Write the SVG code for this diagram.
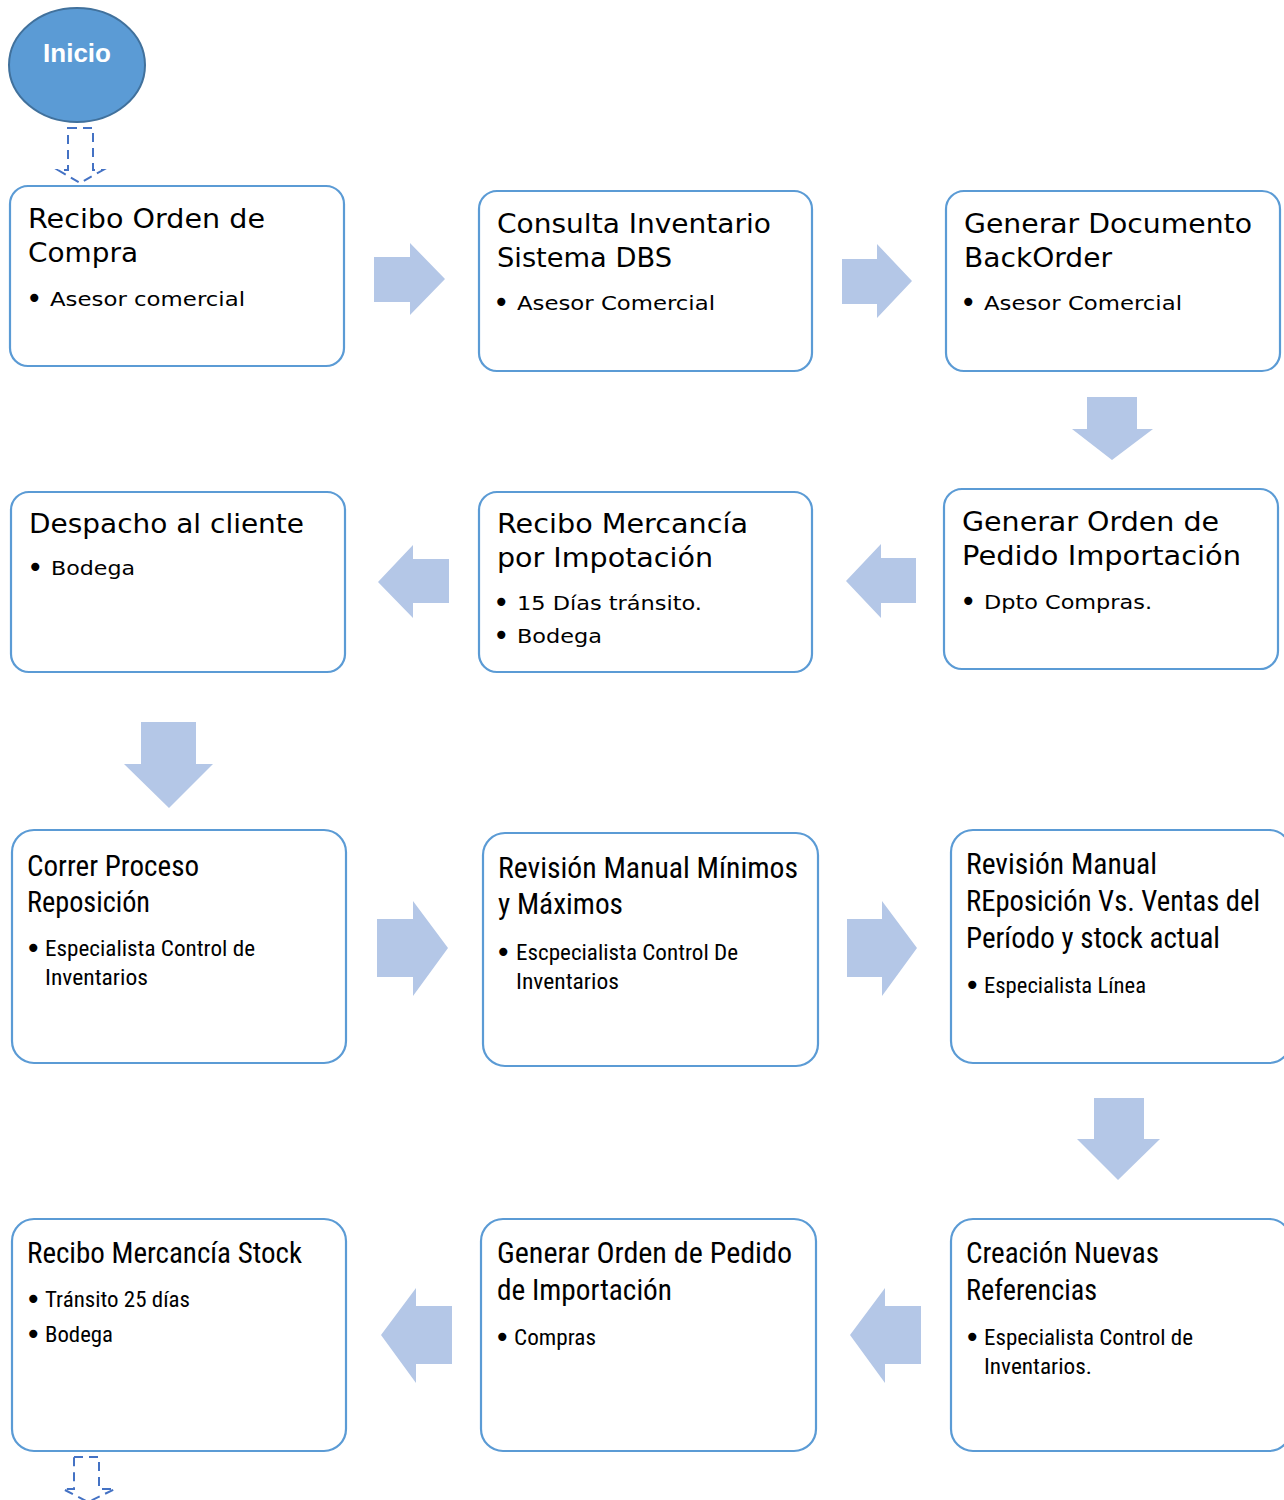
<svg xmlns="http://www.w3.org/2000/svg" width="1284" height="1500" viewBox="0 0 1284 1500">
<style>
.box{fill:#fff;stroke:#5B9BD5;stroke-width:2.2}
.arr{fill:#B4C7E7;stroke:none}
.dash{fill:none;stroke:#4472C4;stroke-width:2;stroke-dasharray:9,6}
.t1{font-family:"DejaVu Sans","Verdana",sans-serif;font-size:26px;fill:#000}
.b1{font-family:"DejaVu Sans","Verdana",sans-serif;font-size:20px;fill:#000}
.t2{font-family:"Liberation Sans Narrow","Roboto Condensed","Open Sans",sans-serif;font-size:29px;fill:#000}
.b2{font-family:"Liberation Sans Narrow","Roboto Condensed","Open Sans",sans-serif;font-size:22px;fill:#000}
.dot{font-family:"DejaVu Sans",sans-serif;font-size:28px;fill:#000}
</style>
<rect width="1284" height="1500" fill="#fff"/>
<g id="inicio">
<ellipse cx="77" cy="65" rx="68" ry="57" fill="#5B9BD5" stroke="#41719C" stroke-width="2"/>
<text x="77" y="62" text-anchor="middle" font-family="Liberation Sans, Arial, sans-serif" font-weight="bold" font-size="26" fill="#fff">Inicio</text>
</g>
<g id="connectors">
<path class="dash" d="M68,128 L93,128 L93,170 L103,170 L80,183 L58,170 L68,170 Z"/>
<path class="dash" d="M74,1457 L99,1457 L99,1489 L115,1489 L88,1502 L63,1489 L74,1489 Z"/>
<polygon class="arr" points="374,257 410,257 410,243 445,279 410,315 410,302 374,302"/>
<polygon class="arr" points="842,259 877,259 877,244 912,281 877,318 877,304 842,304"/>
<polygon class="arr" points="1087,397 1137,397 1137,429 1153,429 1112,460 1072,429 1087,429"/>
<polygon class="arr" points="378,582 413,545 413,559 449,559 449,603 413,603 413,618"/>
<polygon class="arr" points="846,581 881,544 881,558 916,558 916,603 881,603 881,618"/>
<polygon class="arr" points="141,722 196,722 196,764 213,764 169,808 124,764 141,764"/>
<polygon class="arr" points="377,919 413,919 413,901 448,948 413,996 413,977 377,977"/>
<polygon class="arr" points="847,919 882,919 882,901 917,948 882,996 882,977 847,977"/>
<polygon class="arr" points="1094,1098 1144,1098 1144,1139 1160,1139 1118,1180 1077,1139 1094,1139"/>
<polygon class="arr" points="381,1335 416,1288 416,1306 452,1306 452,1364 416,1364 416,1383"/>
<polygon class="arr" points="850,1335 885,1288 885,1306 921,1306 921,1364 885,1364 885,1383"/>
</g>
<g id="n1">
<rect class="box" x="10" y="186" width="334" height="180" rx="18"/>
<text class="t1" x="28" y="228" textLength="237" lengthAdjust="spacingAndGlyphs">Recibo Orden de</text>
<text class="t1" x="28" y="262" textLength="110" lengthAdjust="spacingAndGlyphs">Compra</text>
<text class="dot" x="26" y="308">•</text>
<text class="b1" x="50" y="306" textLength="195" lengthAdjust="spacingAndGlyphs">Asesor comercial</text>
</g>
<g id="n2">
<rect class="box" x="479" y="191" width="333" height="180" rx="18"/>
<text class="t1" x="497" y="233" textLength="274" lengthAdjust="spacingAndGlyphs">Consulta Inventario</text>
<text class="t1" x="497" y="267" textLength="175" lengthAdjust="spacingAndGlyphs">Sistema DBS</text>
<text class="dot" x="493" y="312">•</text>
<text class="b1" x="517" y="310" textLength="198" lengthAdjust="spacingAndGlyphs">Asesor Comercial</text>
</g>
<g id="n3">
<rect class="box" x="946" y="191" width="334" height="180" rx="18"/>
<text class="t1" x="964" y="233" textLength="288" lengthAdjust="spacingAndGlyphs">Generar Documento</text>
<text class="t1" x="964" y="267" textLength="148" lengthAdjust="spacingAndGlyphs">BackOrder</text>
<text class="dot" x="960" y="312">•</text>
<text class="b1" x="984" y="310" textLength="198" lengthAdjust="spacingAndGlyphs">Asesor Comercial</text>
</g>
<g id="n4">
<rect class="box" x="11" y="492" width="334" height="180" rx="18"/>
<text class="t1" x="29" y="533" textLength="275" lengthAdjust="spacingAndGlyphs">Despacho al cliente</text>
<text class="dot" x="27" y="577">•</text>
<text class="b1" x="51" y="575" textLength="84" lengthAdjust="spacingAndGlyphs">Bodega</text>
</g>
<g id="n5">
<rect class="box" x="479" y="492" width="333" height="180" rx="18"/>
<text class="t1" x="497" y="533" textLength="251" lengthAdjust="spacingAndGlyphs">Recibo Mercancía</text>
<text class="t1" x="497" y="567" textLength="216" lengthAdjust="spacingAndGlyphs">por Impotación</text>
<text class="dot" x="493" y="612">•</text>
<text class="b1" x="517" y="610" textLength="185" lengthAdjust="spacingAndGlyphs">15 Días tránsito.</text>
<text class="dot" x="493" y="645">•</text>
<text class="b1" x="517" y="643" textLength="85" lengthAdjust="spacingAndGlyphs">Bodega</text>
</g>
<g id="n6">
<rect class="box" x="944" y="489" width="334" height="180" rx="18"/>
<text class="t1" x="962" y="531" textLength="257" lengthAdjust="spacingAndGlyphs">Generar Orden de</text>
<text class="t1" x="962" y="565" textLength="279" lengthAdjust="spacingAndGlyphs">Pedido Importación</text>
<text class="dot" x="960" y="611">•</text>
<text class="b1" x="984" y="609" textLength="168" lengthAdjust="spacingAndGlyphs">Dpto Compras.</text>
</g>
<g id="n7">
<rect class="box" x="12" y="830" width="334" height="233" rx="22"/>
<text class="t2" x="27" y="876" textLength="172" lengthAdjust="spacingAndGlyphs">Correr Proceso</text>
<text class="t2" x="27" y="912" textLength="123" lengthAdjust="spacingAndGlyphs">Reposición</text>
<text class="dot" x="25" y="958">•</text>
<text class="b2" x="45" y="956" textLength="210" lengthAdjust="spacingAndGlyphs">Especialista Control de</text>
<text class="b2" x="45" y="985" textLength="103" lengthAdjust="spacingAndGlyphs">Inventarios</text>
</g>
<g id="n8">
<rect class="box" x="483" y="833" width="335" height="233" rx="22"/>
<text class="t2" x="498" y="878" textLength="300" lengthAdjust="spacingAndGlyphs">Revisión Manual Mínimos</text>
<text class="t2" x="498" y="914" textLength="125" lengthAdjust="spacingAndGlyphs">y Máximos</text>
<text class="dot" x="495" y="962">•</text>
<text class="b2" x="516" y="960" textLength="222" lengthAdjust="spacingAndGlyphs">Escpecialista Control De</text>
<text class="b2" x="516" y="989" textLength="103" lengthAdjust="spacingAndGlyphs">Inventarios</text>
</g>
<g id="n9">
<rect class="box" x="951" y="830" width="340" height="233" rx="22"/>
<text class="t2" x="966" y="874" textLength="191" lengthAdjust="spacingAndGlyphs">Revisión Manual</text>
<text class="t2" x="966" y="911" textLength="294" lengthAdjust="spacingAndGlyphs">REposición Vs. Ventas del</text>
<text class="t2" x="966" y="948" textLength="254" lengthAdjust="spacingAndGlyphs">Período y stock actual</text>
<text class="dot" x="964" y="995">•</text>
<text class="b2" x="984" y="993" textLength="162" lengthAdjust="spacingAndGlyphs">Especialista Línea</text>
</g>
<g id="n10">
<rect class="box" x="12" y="1219" width="334" height="232" rx="22"/>
<text class="t2" x="27" y="1263" textLength="275" lengthAdjust="spacingAndGlyphs">Recibo Mercancía Stock</text>
<text class="dot" x="25" y="1309">•</text>
<text class="b2" x="45" y="1307" textLength="145" lengthAdjust="spacingAndGlyphs">Tránsito 25 días</text>
<text class="dot" x="25" y="1344">•</text>
<text class="b2" x="45" y="1342" textLength="68" lengthAdjust="spacingAndGlyphs">Bodega</text>
</g>
<g id="n11">
<rect class="box" x="481" y="1219" width="335" height="232" rx="22"/>
<text class="t2" x="497" y="1263" textLength="295" lengthAdjust="spacingAndGlyphs">Generar Orden de Pedido</text>
<text class="t2" x="497" y="1300" textLength="175" lengthAdjust="spacingAndGlyphs">de Importación</text>
<text class="dot" x="494" y="1347">•</text>
<text class="b2" x="514" y="1345" textLength="82" lengthAdjust="spacingAndGlyphs">Compras</text>
</g>
<g id="n12">
<rect class="box" x="951" y="1219" width="340" height="232" rx="22"/>
<text class="t2" x="966" y="1263" textLength="193" lengthAdjust="spacingAndGlyphs">Creación Nuevas</text>
<text class="t2" x="966" y="1300" textLength="131" lengthAdjust="spacingAndGlyphs">Referencias</text>
<text class="dot" x="964" y="1347">•</text>
<text class="b2" x="984" y="1345" textLength="209" lengthAdjust="spacingAndGlyphs">Especialista Control de</text>
<text class="b2" x="984" y="1374" textLength="108" lengthAdjust="spacingAndGlyphs">Inventarios.</text>
</g>
</svg>
